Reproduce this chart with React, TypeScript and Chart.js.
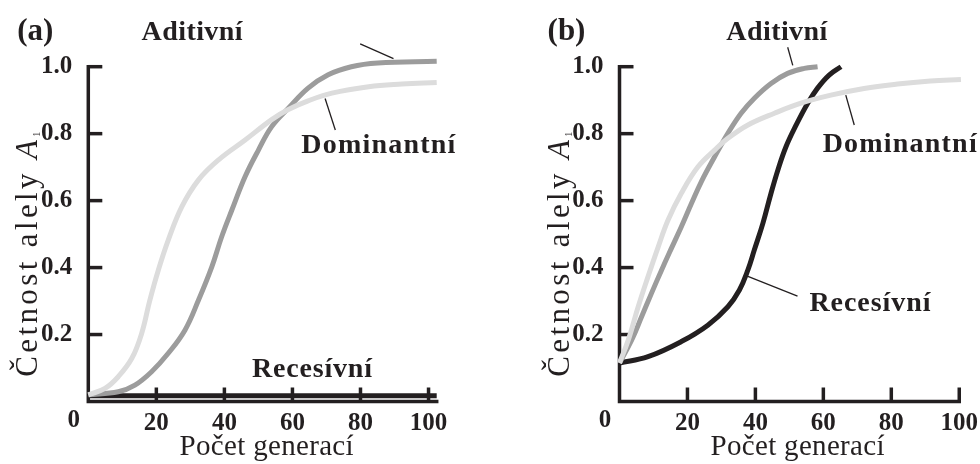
import React, { useEffect, useRef } from 'react';
import { Chart, registerables } from 'chart.js';

Chart.register(...registerables);

// ---------- data ----------
const xTickValues = [0, 20, 40, 60, 80, 100];
const yTickValues = [0.2, 0.4, 0.6, 0.8, 1.0];
const yTickLabels = ['0.2', '0.4', '0.6', '0.8', '1.0'];

const seriesNames = ['Dominantní', 'Aditivní', 'Recesívní'];
const xAxisTitle = 'Počet generací';
const yAxisTitle = ['Četnost alely ', 'A', '1'];
const panelLetters = ['(a)', '(b)'];

// Panel (a)
const aDominantX = [0, 4.9, 8.8, 12.8, 15.7, 18.1, 20.6, 23.5, 27.5, 32.4, 38.2, 46.1, 53.9, 58.8, 64.6, 71.6, 82.4, 92.2, 102.4];
const aDominantY = [0.02, 0.039, 0.074, 0.129, 0.204, 0.303, 0.393, 0.482, 0.582, 0.662, 0.721, 0.781, 0.842, 0.872, 0.898, 0.921, 0.94, 0.948, 0.953];
const aAdditiveX = [0, 8.8, 13.7, 18.6, 23.5, 28.4, 32.4, 36.3, 39.2, 42.2, 46.1, 50.0, 53.9, 58.8, 64.6, 70.5, 77.3, 85.1, 102.4];
const aAdditiveY = [0.02, 0.029, 0.049, 0.089, 0.144, 0.213, 0.303, 0.402, 0.492, 0.572, 0.672, 0.751, 0.821, 0.876, 0.936, 0.976, 1.0, 1.011, 1.016];
const aRecessiveX = [0, 50, 102.4];
const aRecessiveY = [0.017, 0.017, 0.017];

// Panel (b)
const bDominantX = [0, 2.6, 5.5, 8.4, 11.4, 14.3, 18.2, 23.1, 28.0, 31.9, 37.8, 45.6, 53.4, 62.2, 72.0, 81.8, 91.5, 100.5];
const bDominantY = [0.115, 0.184, 0.283, 0.373, 0.462, 0.542, 0.622, 0.701, 0.751, 0.786, 0.826, 0.861, 0.891, 0.915, 0.935, 0.948, 0.957, 0.962];
const bAdditiveX = [0, 3.6, 6.5, 9.4, 12.4, 15.3, 18.2, 21.2, 24.1, 28.0, 31.9, 35.8, 39.7, 44.6, 49.5, 54.4, 58.3];
const bAdditiveY = [0.115, 0.184, 0.253, 0.323, 0.393, 0.458, 0.522, 0.592, 0.657, 0.731, 0.801, 0.861, 0.906, 0.95, 0.98, 0.995, 1.0];
const bRecessiveX = [0, 8.4, 18.2, 26.0, 31.9, 35.3, 37.8, 39.7, 42.2, 44.6, 46.6, 49.0, 52.0, 55.4, 58.3, 61.7, 65.2];
const bRecessiveY = [0.115, 0.134, 0.179, 0.228, 0.283, 0.333, 0.393, 0.453, 0.532, 0.622, 0.691, 0.761, 0.826, 0.891, 0.936, 0.975, 1.0];

// ---------- styling / layout ----------
const INK = '#231f20';
const COLORS = ['#dcdcdc', '#9c9c9c', INK];
const FONT = '"Liberation Serif", "Times New Roman", serif';

type Label = { text: string; x: number; y: number; align: 'left' | 'center'; width: number };
type Panel = {
  letter: string;
  xMax: number;
  xs: number[][];
  ys: number[][];
  labels: Label[];
  leaders: number[][];
  padLeft: number;
  padRight: number;
  canvasLeft: number;
};

const panels: Panel[] = [
  {
    letter: panelLetters[0],
    xMax: 102.4,
    xs: [aDominantX, aAdditiveX, aRecessiveX],
    ys: [aDominantY, aAdditiveY, aRecessiveY],
    labels: [
      { text: seriesNames[1], x: 30.5, y: 1.08, align: 'center', width: 101 },
      { text: seriesNames[0], x: 62.6, y: 0.742, align: 'left', width: 154 },
      { text: seriesNames[2], x: 48.1, y: 0.073, align: 'left', width: 120 },
    ],
    leaders: [
      [79.9, 1.068, 89.7, 1.024],
      [69.6, 0.905, 72.6, 0.811],
    ],
    padLeft: 28.3,
    padRight: 53.3,
    canvasLeft: 0,
  },
  {
    letter: panelLetters[1],
    xMax: 100,
    xs: [bDominantX, bAdditiveX, bRecessiveX],
    ys: [bDominantY, bAdditiveY, bRecessiveY],
    labels: [
      { text: seriesNames[1], x: 46.3, y: 1.08, align: 'center', width: 101 },
      { text: seriesNames[0], x: 59.8, y: 0.746, align: 'left', width: 154 },
      { text: seriesNames[2], x: 55.9, y: 0.27, align: 'left', width: 121 },
    ],
    leaders: [
      [49.5, 1.058, 51.0, 1.004],
      [66.6, 0.915, 69.1, 0.826],
      [37.8, 0.374, 52.4, 0.315],
    ],
    padLeft: 69.5,
    padRight: 19.5,
    canvasLeft: 490,
  },
];

type Run = { text: string; font: string; dy?: number };

function drawTracked(
  ctx: CanvasRenderingContext2D,
  runs: Run[],
  x: number,
  y: number,
  align: 'left' | 'center',
  target?: number
) {
  const chars: { ch: string; font: string; dy: number; w: number }[] = [];
  for (const r of runs) {
    ctx.font = r.font;
    for (const ch of Array.from(r.text)) {
      chars.push({ ch, font: r.font, dy: r.dy || 0, w: ctx.measureText(ch).width });
    }
  }
  const natural = chars.reduce((s, c) => s + c.w, 0);
  const gap = target && chars.length > 1 ? (target - natural) / (chars.length - 1) : 0;
  const total = natural + gap * (chars.length - 1);
  let cx = align === 'center' ? x - total / 2 : x;
  ctx.textAlign = 'left';
  ctx.textBaseline = 'alphabetic';
  for (const c of chars) {
    ctx.font = c.font;
    ctx.fillText(c.ch, cx, y + c.dy);
    cx += c.w + gap;
  }
}

function makeOverlay(panel: Panel) {
  return {
    id: 'overlay',
    beforeDatasetsDraw(chart: any) {
      const { ctx, chartArea } = chart;
      const xs = chart.scales.x;
      const ys = chart.scales.y;
      ctx.save();
      ctx.strokeStyle = INK;
      ctx.lineWidth = 3.5;
      ctx.lineCap = 'square';
      ctx.beginPath();
      ctx.moveTo(chartArea.left, chartArea.top);
      ctx.lineTo(chartArea.left, chartArea.bottom);
      ctx.lineTo(chartArea.right, chartArea.bottom);
      ctx.stroke();
      ctx.lineCap = 'butt';
      for (const v of yTickValues) {
        const py = ys.getPixelForValue(v);
        ctx.beginPath();
        ctx.moveTo(chartArea.left, py);
        ctx.lineTo(chartArea.left + 14, py);
        ctx.stroke();
      }
      for (const v of xTickValues) {
        if (v === 0) continue;
        const px = xs.getPixelForValue(v);
        ctx.beginPath();
        ctx.moveTo(px, chartArea.bottom);
        ctx.lineTo(px, chartArea.bottom - 14);
        ctx.stroke();
      }
      ctx.restore();
    },
    afterDatasetsDraw(chart: any) {
      const { ctx, chartArea } = chart;
      const xs = chart.scales.x;
      const ys = chart.scales.y;
      ctx.save();
      ctx.fillStyle = INK;
      ctx.strokeStyle = INK;

      // "0" label at the origin, set left of the y axis
      ctx.font = `bold 25px ${FONT}`;
      ctx.textAlign = 'center';
      ctx.textBaseline = 'middle';
      ctx.fillText(String(xTickValues[0]), xs.getPixelForValue(0) - 14.5, chartArea.bottom + 19.5);

      // panel letter
      drawTracked(ctx, [{ text: panel.letter, font: `bold 31px ${FONT}` }], chartArea.left - 53, 40, 'center');

      // series labels
      for (const l of panel.labels) {
        drawTracked(
          ctx,
          [{ text: l.text, font: `bold 28px ${FONT}` }],
          xs.getPixelForValue(l.x),
          ys.getPixelForValue(l.y),
          l.align,
          l.width
        );
      }

      // leader lines
      ctx.lineWidth = 1.3;
      for (const [x1, y1, x2, y2] of panel.leaders) {
        ctx.beginPath();
        ctx.moveTo(xs.getPixelForValue(x1), ys.getPixelForValue(y1));
        ctx.lineTo(xs.getPixelForValue(x2), ys.getPixelForValue(y2));
        ctx.stroke();
      }

      // x axis title
      drawTracked(
        ctx,
        [{ text: xAxisTitle, font: `29px ${FONT}` }],
        xs.getPixelForValue(52.4),
        chartArea.bottom + 53.5,
        'center',
        174
      );

      // y axis title (rotated)
      ctx.translate(chartArea.left - 51, ys.getPixelForValue(0.44));
      ctx.rotate(-Math.PI / 2);
      drawTracked(
        ctx,
        [
          { text: yAxisTitle[0], font: `31px ${FONT}` },
          { text: yAxisTitle[1], font: `italic 31px ${FONT}` },
          { text: yAxisTitle[2], font: `10px ${FONT}`, dy: 3 },
        ],
        0,
        0,
        'center',
        245
      );
      ctx.restore();
    },
  };
}

function PanelChart({ panel }: { panel: Panel }) {
  const ref = useRef<HTMLCanvasElement | null>(null);
  useEffect(() => {
    if (!ref.current) return;
    const tickFont = { family: FONT, size: 25, weight: 'bold' as const, lineHeight: 1 };
    const chart = new Chart(ref.current, {
      type: 'line',
      data: {
        datasets: panel.xs.map((xsArr, i) => ({
          label: seriesNames[i],
          data: xsArr.map((x, j) => ({ x, y: panel.ys[i][j] })),
          borderColor: COLORS[i],
          backgroundColor: COLORS[i],
          borderWidth: 5,
          pointRadius: 0,
          fill: false,
          tension: 0.4,
          clip: 14,
          order: i,
        })),
      },
      options: {
        animation: false,
        responsive: false,
        events: [],
        layout: { padding: { left: panel.padLeft, right: panel.padRight, top: 66.7, bottom: 22.5 } },
        plugins: {
          legend: { display: false },
          tooltip: { enabled: false },
          title: { display: false },
        },
        scales: {
          x: {
            type: 'linear',
            min: 0,
            max: panel.xMax,
            grid: { display: false },
            border: { display: false },
            afterBuildTicks: (s: any) => {
              s.ticks = xTickValues.map((v) => ({ value: v }));
            },
            afterFit: (s: any) => {
              s.height = 40;
            },
            ticks: {
              font: tickFont,
              color: INK,
              padding: 2,
              maxRotation: 0,
              autoSkip: false,
              callback: (v: any) => (v === 0 ? '' : String(v)),
            },
          },
          y: {
            type: 'linear',
            min: 0,
            max: 1,
            grid: { display: false },
            border: { display: false },
            afterBuildTicks: (s: any) => {
              s.ticks = yTickValues.map((v) => ({ value: v }));
            },
            afterFit: (s: any) => {
              s.width = 60;
            },
            ticks: {
              font: tickFont,
              color: INK,
              padding: 8,
              autoSkip: false,
              callback: (v: any) => {
                const k = yTickValues.indexOf(v);
                return k >= 0 ? yTickLabels[k] : '';
              },
            },
          },
        },
      },
      plugins: [makeOverlay(panel)],
    });
    return () => chart.destroy();
  }, [panel]);
  return (
    <canvas
      ref={ref}
      width={490}
      height={464}
      style={{ position: 'absolute', left: panel.canvasLeft, top: 0, width: 490, height: 464 }}
    />
  );
}

export default function App() {
  return (
    <div style={{ position: 'absolute', left: 0, top: 0, width: 980, height: 464, background: '#fff' }}>
      {panels.map((p) => (
        <PanelChart key={p.letter} panel={p} />
      ))}
    </div>
  );
}
